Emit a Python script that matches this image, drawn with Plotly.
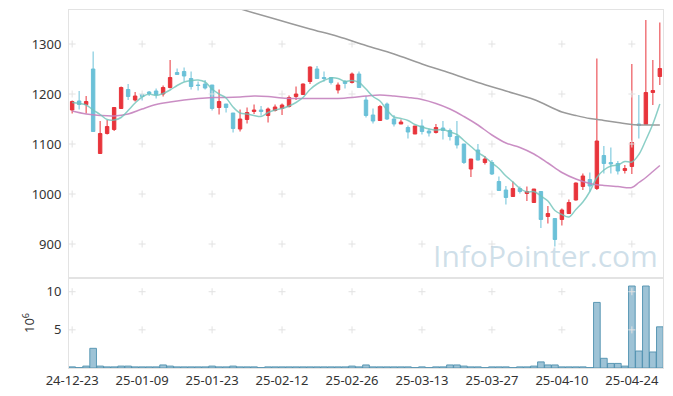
import plotly.graph_objects as go
from plotly.subplots import make_subplots

dates = [
    "2024-12-23", "2024-12-24", "2024-12-26", "2024-12-27", "2024-12-30",
    "2025-01-02", "2025-01-03", "2025-01-06", "2025-01-07", "2025-01-08", "2025-01-09", "2025-01-10",
    "2025-01-13", "2025-01-14", "2025-01-15", "2025-01-16", "2025-01-17",
    "2025-01-20", "2025-01-21", "2025-01-22", "2025-01-23", "2025-01-24", "2025-01-31",
    "2025-02-03", "2025-02-04", "2025-02-05", "2025-02-06", "2025-02-07",
    "2025-02-10", "2025-02-11", "2025-02-12", "2025-02-13", "2025-02-14",
    "2025-02-17", "2025-02-18", "2025-02-19", "2025-02-20", "2025-02-21",
    "2025-02-24", "2025-02-25", "2025-02-26", "2025-02-27", "2025-02-28",
    "2025-03-04", "2025-03-05", "2025-03-06", "2025-03-07",
    "2025-03-10", "2025-03-11", "2025-03-12", "2025-03-13", "2025-03-14",
    "2025-03-17", "2025-03-18", "2025-03-19", "2025-03-20", "2025-03-21",
    "2025-03-24", "2025-03-25", "2025-03-26", "2025-03-27", "2025-03-28", "2025-03-31",
    "2025-04-01", "2025-04-02", "2025-04-03", "2025-04-04",
    "2025-04-07", "2025-04-08", "2025-04-09", "2025-04-10", "2025-04-11",
    "2025-04-14", "2025-04-15", "2025-04-16", "2025-04-17", "2025-04-18",
    "2025-04-21", "2025-04-22", "2025-04-23", "2025-04-24", "2025-04-25",
    "2025-04-28", "2025-04-29", "2025-04-30",
]

open_ = [1168, 1186, 1179, 1250, 1081, 1121, 1129, 1171, 1209, 1188,
         1199, 1204, 1206, 1200, 1213, 1243, 1245, 1231, 1218, 1220,
         1218, 1173, 1180, 1162, 1130, 1149, 1165, 1168, 1157, 1167,
         1171, 1175, 1195, 1199, 1225, 1250, 1233, 1233, 1208, 1225,
         1223, 1240, 1188, 1158, 1147, 1180, 1150, 1140, 1133, 1120,
         1136, 1126, 1123, 1132, 1127, 1115, 1100, 1050, 1088, 1063,
         1063, 1025, 1008, 995, 1011, 1001, 983, 1005, 955, 951,
         949, 961, 988, 1015, 1029, 1011, 1077, 1063, 1061, 1047,
         1055, 1140, 1139, 1203, 1235]
high = [1187, 1206, 1196, 1285, 1146, 1148, 1174, 1215, 1220, 1204,
        1201, 1206, 1211, 1217, 1268, 1251, 1253, 1245, 1225, 1228,
        1218, 1209, 1180, 1162, 1169, 1173, 1179, 1176, 1173, 1179,
        1181, 1197, 1215, 1221, 1255, 1256, 1245, 1233, 1223, 1228,
        1243, 1245, 1196, 1171, 1178, 1183, 1158, 1149, 1137, 1136,
        1149, 1131, 1140, 1146, 1131, 1146, 1100, 1070, 1100, 1076,
        1068, 1035, 1016, 1025, 1015, 1015, 1010, 1005, 976, 951,
        971, 989, 1023, 1041, 1043, 1271, 1096, 1093, 1066, 1058,
        1260, 1198, 1348, 1268, 1343]
low = [1161, 1169, 1161, 1125, 1081, 1119, 1126, 1170, 1188, 1185,
       1187, 1196, 1191, 1195, 1211, 1238, 1225, 1209, 1207, 1209,
       1167, 1159, 1163, 1123, 1125, 1141, 1160, 1157, 1143, 1165,
       1158, 1173, 1188, 1198, 1220, 1231, 1225, 1219, 1201, 1211,
       1221, 1213, 1153, 1141, 1147, 1148, 1135, 1140, 1111, 1120,
       1119, 1115, 1121, 1109, 1107, 1091, 1060, 1034, 1067, 1059,
       1038, 1007, 979, 995, 1001, 986, 983, 932, 941, 895,
       937, 960, 987, 1008, 1005, 1008, 1041, 1041, 1039, 1041,
       1040, 1111, 1138, 1178, 1218]
close = [1185, 1179, 1185, 1125, 1121, 1135, 1173, 1213, 1195, 1196,
         1195, 1201, 1199, 1213, 1233, 1239, 1236, 1215, 1217, 1212,
         1171, 1185, 1173, 1131, 1150, 1163, 1168, 1165, 1170, 1174,
         1178, 1193, 1200, 1220, 1254, 1231, 1231, 1223, 1218, 1221,
         1240, 1213, 1157, 1146, 1175, 1150, 1140, 1144, 1124, 1136,
         1125, 1122, 1133, 1127, 1115, 1098, 1063, 1070, 1068, 1070,
         1040, 1007, 993, 1011, 1005, 1005, 1010, 949, 961, 909,
         968, 983, 1022, 1036, 1016, 1106, 1061, 1060, 1046, 1051,
         1103, 1137, 1203, 1207, 1251]

# volume in millions
volume = [0.15, 0.05, 0.25, 2.58, 0.25, 0.15, 0.15, 0.25, 0.25, 0.15,
          0.15, 0.15, 0.15, 0.4, 0.25, 0.15, 0.15, 0.15, 0.15, 0.15,
          0.25, 0.15, 0.15, 0.25, 0.15, 0.15, 0.15, 0.05, 0.15, 0.15,
          0.15, 0.15, 0.15, 0.15, 0.15, 0.15, 0.15, 0.15, 0.15, 0.15,
          0.25, 0.15, 0.4, 0.15, 0.15, 0.15, 0.15, 0.15, 0.15, 0.05,
          0.15, 0.05, 0.15, 0.15, 0.4, 0.4, 0.25, 0.15, 0.15, 0.05,
          0.15, 0.15, 0.15, 0.05, 0.15, 0.15, 0.25, 0.8, 0.4, 0.4,
          0.15, 0.15, 0.15, 0.15, 0.05, 8.6, 1.27, 0.6, 0.6, 0.25,
          10.75, 2.23, 10.75, 2.1, 5.4]

# moving averages
ma5 = [1183, 1181, 1178, 1168, 1159, 1149, 1148, 1153, 1167, 1182,
       1194, 1200, 1197, 1201, 1208, 1217, 1224, 1227, 1228, 1224,
       1210, 1200, 1192, 1174, 1162, 1160, 1157, 1155, 1163, 1168,
       1171, 1176, 1183, 1193, 1209, 1220, 1227, 1232, 1231, 1225,
       1227, 1223, 1210, 1195, 1186, 1168, 1154, 1151, 1147, 1139,
       1134, 1130, 1128, 1129, 1124, 1119, 1107, 1095, 1083, 1074,
       1062, 1051, 1036, 1024, 1011, 1004, 1005, 996, 986, 967,
       959, 954, 969, 984, 1005, 1033, 1048, 1056, 1058, 1065,
       1064, 1079, 1108, 1140, 1180]
ma20_idx = [0, 2, 4, 6, 8, 10, 12, 14, 16, 18, 20, 22, 24, 26, 28, 30, 32, 34,
            36, 38, 40, 42, 44, 46, 48, 50, 52, 54, 56, 58, 60, 62, 64, 66,
            68, 70, 72, 74, 76, 78, 80, 81, 82, 83, 84]
ma20_val = [1166, 1160, 1157, 1156, 1160, 1170, 1179, 1184, 1188, 1191, 1193,
            1193, 1194, 1196, 1195, 1192, 1191, 1191, 1191, 1191, 1193, 1196,
            1198, 1196, 1193, 1189, 1181, 1170, 1155, 1138, 1118, 1102, 1093,
            1080, 1062, 1043, 1030, 1021, 1017, 1015, 1013, 1023, 1033, 1045,
            1057]
ma120_idx = [22, 26, 30, 34, 38, 42, 46, 50, 54, 58, 62, 66, 70, 72, 74, 76,
             78, 80, 82, 84]
ma120_val = [1379, 1362, 1346, 1330, 1315, 1297, 1280, 1260, 1242, 1223, 1206,
             1189, 1164, 1157, 1151, 1147, 1143, 1139, 1138, 1138]

price_ticks = [900, 1000, 1100, 1200, 1300]
vol_ticks = [5, 10]
tick_every = 10
tick_vals = dates[::tick_every]
tick_text = [d[2:] for d in tick_vals]

RED = "#e8343b"
BLUE = "#6bc1d8"
FONT = "Noto Sans"
AXC = "#e3e3e3"

fig = make_subplots(rows=2, cols=1, shared_xaxes=True, vertical_spacing=0)

# grid "+" marks at tick intersections
gx = [t for t in tick_vals for _ in price_ticks]
gy = [p for _ in tick_vals for p in price_ticks]
fig.add_trace(go.Scatter(x=gx, y=gy, mode="markers",
                         marker=dict(symbol="cross-thin", size=5, line=dict(color="#e2e2e2", width=1)),
                         hoverinfo="skip", showlegend=False), row=1, col=1)
vx = [t for t in tick_vals for _ in vol_ticks]
vy = [p for _ in tick_vals for p in vol_ticks]
fig.add_trace(go.Scatter(x=vx, y=vy, mode="markers",
                         marker=dict(symbol="cross-thin", size=5, line=dict(color="#e2e2e2", width=1)),
                         hoverinfo="skip", showlegend=False), row=2, col=1)

fig.add_trace(go.Candlestick(
    x=dates, open=open_, high=high, low=low, close=close,
    increasing=dict(line=dict(color=RED, width=1), fillcolor=RED),
    decreasing=dict(line=dict(color=BLUE, width=1), fillcolor=BLUE),
    whiskerwidth=0, hoverinfo="skip", showlegend=False,
), row=1, col=1)

fig.add_trace(go.Scatter(x=[dates[i] for i in ma120_idx], y=ma120_val, mode="lines",
                         line=dict(color="#9a9a9a", width=1.5, shape="spline"),
                         hoverinfo="skip", showlegend=False), row=1, col=1)
fig.add_trace(go.Scatter(x=[dates[i] for i in ma20_idx], y=ma20_val, mode="lines",
                         line=dict(color="rgba(196,130,190,0.9)", width=1.5, shape="spline"),
                         hoverinfo="skip", showlegend=False), row=1, col=1)
fig.add_trace(go.Scatter(x=dates, y=ma5, mode="lines",
                         line=dict(color="rgba(110,195,185,0.8)", width=1.5, shape="spline"),
                         hoverinfo="skip", showlegend=False), row=1, col=1)

fig.add_trace(go.Bar(x=dates, y=volume,
                     marker=dict(color="rgba(125,175,200,0.75)",
                                 line=dict(color="rgba(80,145,175,0.9)", width=1)),
                     hoverinfo="skip", showlegend=False), row=2, col=1)

# The page body adds an 8px offset, so the figure is sized/placed accordingly.
split = 90 / 358
fig.update_layout(
    width=665, height=388,
    margin=dict(l=61, r=10, t=2, b=28),
    paper_bgcolor="white", plot_bgcolor="white",
    font=dict(family=FONT, size=13, color="#333333"),
    bargap=0.05,
    showlegend=False,
    xaxis=dict(type="category", categoryorder="array", categoryarray=dates,
               range=[-0.45, 84.45], rangeslider=dict(visible=False),
               showgrid=False, showline=True, linecolor=AXC, mirror=True,
               showticklabels=False, ticks="", automargin=False),
    xaxis2=dict(type="category", categoryorder="array", categoryarray=dates,
                range=[-0.45, 84.45], showgrid=False,
                showline=True, linecolor=AXC, mirror=True, automargin=False,
                tickmode="array", tickvals=tick_vals, ticktext=tick_text, ticks=""),
    yaxis=dict(domain=[split, 1], range=[832, 1368], tickvals=price_ticks,
               showgrid=False, zeroline=False, showline=True, linecolor=AXC, mirror=True,
               ticks="", ticklabelstandoff=4, automargin=False),
    yaxis2=dict(domain=[0, split], range=[0, 11.8], tickvals=vol_ticks,
                showgrid=False, zeroline=False, showline=True, linecolor=AXC, mirror=True,
                ticks="", ticklabelstandoff=4, automargin=False,
                title=dict(text="10<sup>6</sup>", standoff=8, font=dict(size=13))),
    annotations=[dict(text="InfoPointer.com", xref="paper", yref="paper",
                      x=0.803, y=0.313, xanchor="center", yanchor="middle", showarrow=False,
                      font=dict(family="Open Sans", size=30, color="rgba(160,192,212,0.5)"))],
)

fig.write_html("out.html")
